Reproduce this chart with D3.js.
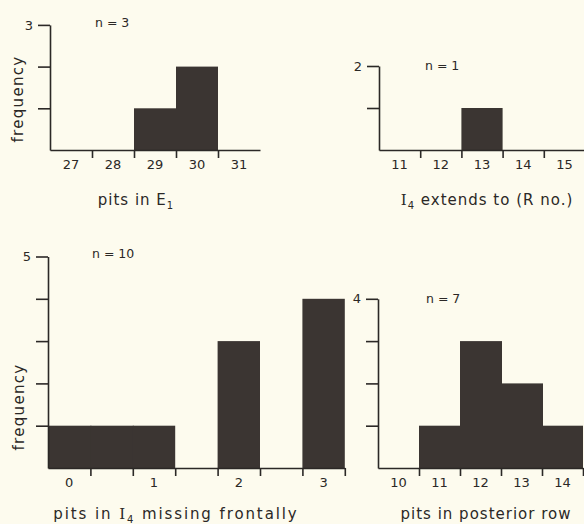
<!DOCTYPE html>
<html>
<head>
<meta charset="utf-8">
<script src="https://cdn.jsdelivr.net/npm/d3@7"></script>
<style>
  body { margin: 0; background: #fdfbee; }
  svg { display: block; }
  text { font-family: "DejaVu Sans", sans-serif; fill: #2b2826; }
</style>
</head>
<body>
<script>
// histogram data
var e1Bins = ["27", "28", "29", "30", "31"];
var e1Freq = [0, 0, 1, 2, 0];

var rBins = ["11", "12", "13", "14", "15"];
var rFreq = [0, 0, 1, 0, 0];

var missBins = ["0", "", "1", "", "2", "", "3"];
var missFreq = [1, 1, 1, 0, 3, 0, 4];

var postBins = ["10", "11", "12", "13", "14"];
var postFreq = [0, 1, 3, 2, 1];

var width = 584, height = 524;
var ink = "#2b2826", barFill = "#3b3532";

var svg = d3.select("body").append("svg")
    .attr("width", width)
    .attr("height", height);

svg.append("rect").attr("width", width).attr("height", height).attr("fill", "#fdfbee");

function panel(p) {
    var n = p.bins.length;
    var x = d3.scaleLinear().domain([0, n]).range([p.x0, p.x0 + n * p.bw]);
    var y = d3.scaleLinear().domain([0, p.ymax]).range([p.y0, p.y0 - p.ymax * p.unit]);

    var g = svg.append("g");

    // bars (no stroke, slight overlap so neighbours merge into one block)
    g.selectAll("rect.bar")
        .data(p.freq.map(function (v, i) { return {i: i, v: v}; }).filter(function (d) { return d.v > 0; }))
        .enter().append("rect")
        .attr("class", "bar")
        .attr("x", function (d) { return x(d.i); })
        .attr("width", function (d) { return x(d.i + 1) - x(d.i) + (p.freq[d.i + 1] > 0 ? 1 : 0); })
        .attr("y", function (d) { return y(d.v); })
        .attr("height", function (d) { return y(0) - y(d.v); })
        .attr("fill", barFill);

    // y axis
    var yAxis = d3.axisLeft(y)
        .tickValues(d3.range(1, p.ymax + 1))
        .tickSize(12)
        .tickSizeOuter(0)
        .tickFormat(function (d) { return d === p.ymax ? d : ""; });
    var ya = g.append("g").attr("transform", "translate(" + p.x0 + ",0)").call(yAxis);
    ya.selectAll("path, line").attr("stroke", ink).attr("stroke-width", 1.6);
    ya.selectAll("text").attr("font-size", 13).attr("dx", "-2px").attr("fill", ink)
        .style("font-family", "DejaVu Sans");

    // x axis: ticks on bin boundaries
    var bounds = d3.range(1, p.endTick ? n + 1 : n);
    var xAxis = d3.axisBottom(x)
        .tickValues(bounds)
        .tickSize(8)
        .tickSizeOuter(0)
        .tickFormat("");
    var xa = g.append("g").attr("transform", "translate(0," + p.y0 + ")").call(xAxis);
    xa.selectAll("path, line").attr("stroke", ink).attr("stroke-width", 1.6);

    // bin labels
    g.selectAll("text.bin")
        .data(p.bins)
        .enter().append("text")
        .attr("class", "bin")
        .attr("x", function (d, i) { return x(i + 0.5); })
        .attr("y", p.y0 + 19)
        .attr("text-anchor", "middle")
        .attr("font-size", 13)
        .text(function (d) { return d; });

    // n label
    g.append("text")
        .attr("x", p.nx).attr("y", p.ny)
        .attr("font-size", 12.5)
        .text(p.nText);

    // title
    var t = g.append("text")
        .attr("x", p.tx).attr("y", p.ty)
        .attr("text-anchor", "middle")
        .attr("font-size", 15)
        .attr("letter-spacing", p.ls || 1);
    p.title.forEach(function (s) {
        var ts = t.append("tspan").text(s.t);
        if (s.serif) ts.style("font-family", "DejaVu Serif");
        if (s.sub) ts.attr("font-size", 10).attr("dy", 4);
        if (s.up) ts.attr("dy", -4);
    });

    if (p.ylab) {
        g.append("text")
            .attr("transform", "translate(" + p.ylab[0] + "," + p.ylab[1] + ") rotate(-90)")
            .attr("text-anchor", "middle")
            .attr("font-size", 15)
            .attr("letter-spacing", 1.3)
            .text("frequency");
    }
}

panel({
    bins: e1Bins, freq: e1Freq, ymax: 3,
    x0: 50, y0: 150, bw: 42, unit: 41.7, endTick: false,
    nText: "n = 3", nx: 95, ny: 27,
    title: [{t: "pits in E"}, {t: "1", sub: true}], tx: 136, ty: 205,
    ylab: [23, 99]
});

panel({
    bins: rBins, freq: rFreq, ymax: 2,
    x0: 379, y0: 150, bw: 41.2, unit: 42, endTick: true,
    nText: "n = 1", nx: 425, ny: 70,
    title: [{t: "I", serif: true}, {t: "4", sub: true}, {t: " extends to (R no.)", up: true}], tx: 487, ty: 205
});

panel({
    bins: missBins, freq: missFreq, ymax: 5,
    x0: 48, y0: 468, bw: 42.4, unit: 42.3, endTick: true,
    nText: "n = 10", nx: 92, ny: 258,
    title: [{t: "pits in "}, {t: "I", serif: true}, {t: "4", sub: true}, {t: " missing  frontally", up: true}], tx: 176, ty: 519, ls: 1.9,
    ylab: [24, 407]
});

panel({
    bins: postBins, freq: postFreq, ymax: 4,
    x0: 378, y0: 468, bw: 41, unit: 42.3, endTick: true,
    nText: "n = 7", nx: 426, ny: 303,
    title: [{t: "pits in posterior row"}], tx: 486, ty: 519
});
</script>
</body>
</html>
